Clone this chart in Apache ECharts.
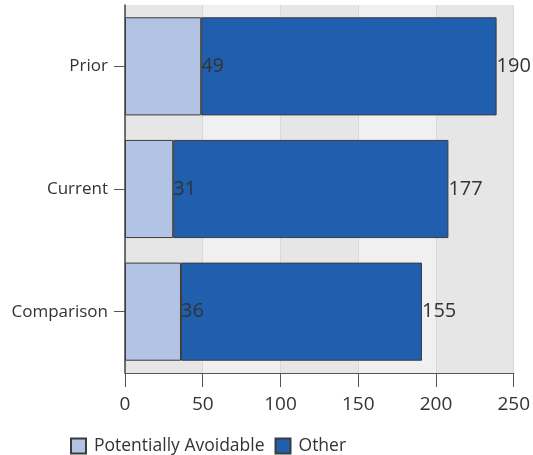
<!DOCTYPE html>
<html>
<head>
<meta charset="utf-8">
<script src="https://cdn.jsdelivr.net/npm/echarts@6/dist/echarts.min.js"></script>
<style>html,body{margin:0;padding:0;background:#fff}#c{width:533px;height:455px}</style>
</head>
<body>
<div id="c"></div>
<script>
const categories = ['Prior', 'Current', 'Comparison'];
const avoidable = [49, 31, 36];
const other = [190, 177, 155];
const xTicks = [0, 50, 100, 150, 200, 250];

const chart = echarts.init(document.getElementById('c'), null, {renderer: 'canvas'});
const font = 'Open Sans';
chart.setOption({
  animation: false,
  grid: {left: 125, right: 19, top: 5, bottom: 82, containLabel: false},
  legend: {
    top: 432, left: 65,
    itemWidth: 15, itemHeight: 15, itemGap: 10,
    icon: 'rect',
    textStyle: {fontFamily: font, fontSize: 17.5, color: '#333', padding: [0, 0, 0, 3]},
    data: ['Potentially Avoidable', 'Other']
  },
  xAxis: {
    type: 'value', min: xTicks[0], max: xTicks[xTicks.length - 1], interval: 50,
    axisLine: {show: true, lineStyle: {color: '#555', width: 1}},
    axisTick: {show: true, inside: false, length: 14, lineStyle: {color: '#555', width: 1}},
    axisLabel: {fontFamily: font, fontSize: 19, color: '#333', margin: 22},
    splitLine: {show: true, lineStyle: {color: '#d8d8d8'}},
    splitArea: {show: true, areaStyle: {color: ['#e6e6e6', '#f0f0f0']}}
  },
  yAxis: {
    type: 'category', inverse: true, data: categories,
    axisLine: {show: true, lineStyle: {color: '#444', width: 1.5}},
    axisTick: {show: true, length: 11, alignWithLabel: true, lineStyle: {color: '#555'}},
    axisLabel: {fontFamily: font, fontSize: 17, color: '#333', margin: 17},
    splitLine: {show: false}
  },
  series: [
    {
      name: 'Potentially Avoidable', type: 'bar', stack: 'a', data: avoidable,
      barWidth: '80%',
      itemStyle: {color: '#b3c3e3', borderColor: '#3c3c3c', borderWidth: 1},
      label: {show: true, position: 'right', distance: 0, fontFamily: font, fontSize: 20, color: '#333'},
      z: 2
    },
    {
      name: 'Other', type: 'bar', stack: 'a', data: other,
      barWidth: '80%',
      itemStyle: {color: '#1f5fad', borderColor: '#3c3c3c', borderWidth: 1},
      label: {show: true, position: 'right', distance: 0, fontFamily: font, fontSize: 20, color: '#333'},
      z: 2
    }
  ]
});
</script>
</body>
</html>
